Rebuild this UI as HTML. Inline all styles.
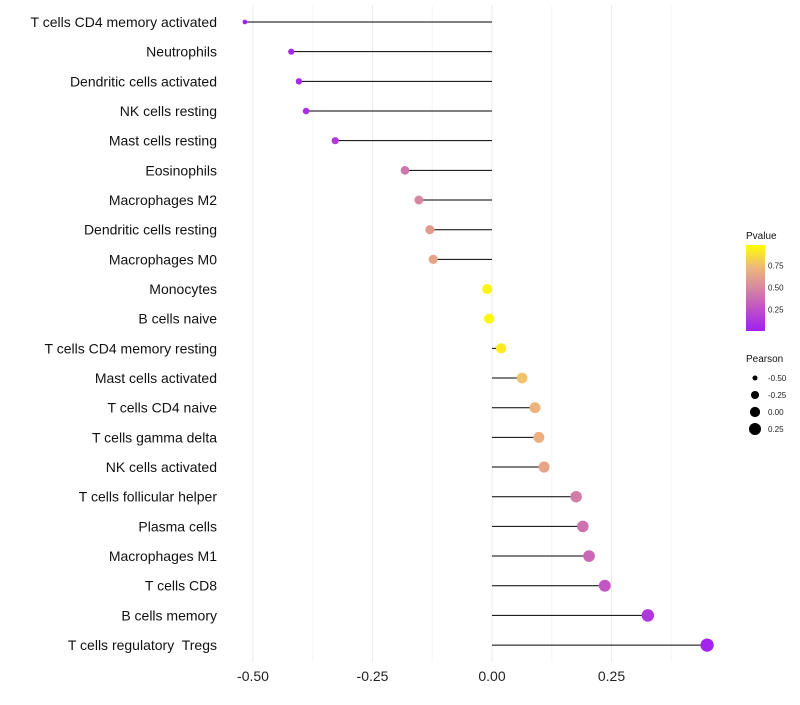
<!DOCTYPE html>
<html><head><meta charset="utf-8"><style>
body{margin:0;background:#fff;}
svg{font-family:"Liberation Sans",sans-serif;}
text{white-space:pre;}
</style></head><body>
<svg id="chart" width="800" height="700"></svg>
<script>
const categories=["T cells CD4 memory activated","Neutrophils","Dendritic cells activated","NK cells resting","Mast cells resting","Eosinophils","Macrophages M2","Dendritic cells resting","Macrophages M0","Monocytes","B cells naive","T cells CD4 memory resting","Mast cells activated","T cells CD4 naive","T cells gamma delta","NK cells activated","T cells follicular helper","Plasma cells","Macrophages M1","T cells CD8","B cells memory","T cells regulatory  Tregs"];
const pearson=[-0.517,-0.42,-0.404,-0.389,-0.328,-0.182,-0.153,-0.130,-0.123,-0.010,-0.006,0.019,0.063,0.090,0.098,0.109,0.176,0.190,0.203,0.236,0.326,0.450];
const pvalue=[0.0,0.05,0.06,0.07,0.13,0.42,0.5,0.6,0.65,0.96,0.98,0.93,0.78,0.72,0.7,0.65,0.45,0.4,0.36,0.28,0.12,0.02];
const xTicks=[-0.5,-0.25,0,0.25];
const xTickLabels=["-0.50","-0.25","0.00","0.25"];
const legendP=[0.25,0.5,0.75];
const legendSize=[-0.5,-0.25,0,0.25];

const NS="http://www.w3.org/2000/svg";
const svg=document.getElementById('chart');
function el(t,a,p){const e=document.createElementNS(NS,t);for(const k in a)e.setAttribute(k,a[k]);(p||svg).appendChild(e);return e;}
const X=v=>492+v*478;
const Y=i=>22+i*29.67;
const R=v=>Math.sqrt(Math.max(2.2,26.1+39.7*v));
const stops=[[0,[160,32,240]],[0.25,[190,80,200]],[0.5,[215,135,160]],[0.75,[240,185,120]],[1,[255,255,0]]];
function col(p){for(let i=1;i<stops.length;i++){if(p<=stops[i][0]){const a=stops[i-1],b=stops[i],t=(p-a[0])/(b[0]-a[0]);return 'rgb('+a[1].map((c,j)=>Math.round(c+(b[1][j]-c)*t)).join(',')+')';}}return 'rgb(255,255,0)';}

for(let v=-0.5;v<=0.38;v+=0.125){
  const g=el('line',{x1:X(v),x2:X(v),y1:5,y2:662,stroke:Math.abs((v*4)%1)<1e-6?'#ebebeb':'#f5f5f5','stroke-width':1});
  
  
}
xTicks.forEach((v,i)=>{
  const t=el('text',{x:X(v),y:681,'text-anchor':'middle','font-size':14,fill:'#222'});
  t.textContent=xTickLabels[i];
  
  
});
categories.forEach((c,i)=>{
  const y=Y(i);
  const lab=el('text',{x:217,y:y+5,'text-anchor':'end','font-size':14,fill:'#111'});
  lab.textContent=c;
  
  
  const ln=el('line',{x1:X(0),x2:X(pearson[i]),y1:y,y2:y,stroke:'#000','stroke-width':1});
  
  
});
categories.forEach((c,i)=>{
  const pt=el('circle',{cx:X(pearson[i]),cy:Y(i),r:R(pearson[i]),fill:col(pvalue[i])});
  
  
});
const lt=el('text',{x:746,y:239,'font-size':10,fill:'#111'});lt.textContent='Pvalue';


const defs=el('defs',{});
const lg=el('linearGradient',{id:'pg',x1:0,y1:1,x2:0,y2:0},defs);
stops.forEach(s=>el('stop',{offset:s[0],'stop-color':col(s[0])},lg));
const bar=el('rect',{x:746,y:245,width:19,height:86,fill:'url(#pg)'});


const pmin=0.005,pmax=0.985;
legendP.forEach(p=>{
  const y=331-(p-pmin)/(pmax-pmin)*86;
  const t=el('text',{x:768,y:y+3,'font-size':8,fill:'#222'});t.textContent=p.toFixed(2);
  
  
});
const st=el('text',{x:746,y:362,'font-size':10,fill:'#111'});st.textContent='Pearson';


legendSize.forEach((v,i)=>{
  const y=378+i*17;
  const c=el('circle',{cx:755,cy:y,r:R(v),fill:'#000'});
  
  
  const t=el('text',{x:768,y:y+3,'font-size':8,fill:'#222'});t.textContent=v.toFixed(2);
  
  
});
</script>
</body></html>
